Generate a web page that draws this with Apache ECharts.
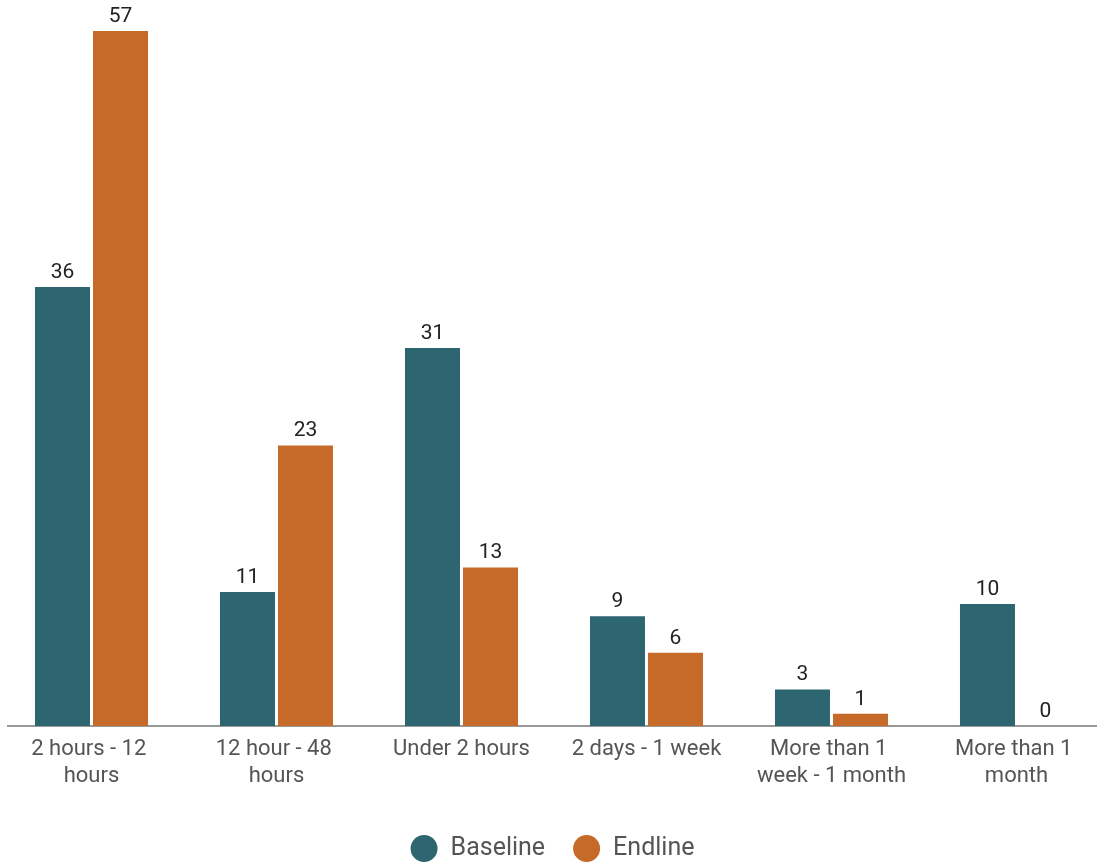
<!DOCTYPE html>
<html><head><meta charset="utf-8">
<script src="https://cdn.jsdelivr.net/npm/echarts@6/dist/echarts.min.js"></script>
<style>html,body{margin:0;padding:0;background:#fff}#c{width:1105px;height:865px}</style>
</head><body><div id="c"></div>
<script>
const categories = ["2 hours - 12 hours","12 hour - 48 hours","Under 2 hours","2 days - 1 week","More than 1 week - 1 month","More than 1 month"];
const baseline = [36, 11, 31, 9, 3, 10];
const endline = [57, 23, 13, 6, 1, 0];
const chart = echarts.init(document.getElementById('c'));
const font = 'Roboto, sans-serif';
chart.setOption({
  animation: false,
  textStyle: {fontFamily: font},
  grid: {left: -1, right: -4, top: 31, bottom: 139, containLabel: false, outerBoundsMode: 'none'},
  legend: {
    top: 830, left: 'center', icon: 'circle', itemWidth: 27, itemHeight: 27, itemGap: 28,
    textStyle: {fontSize: 25, color: '#555', fontFamily: font, padding: [0, 0, 0, 8]}
  },
  xAxis: {
    type: 'category', data: categories,
    axisLine: {show: false}, axisTick: {show: false},
    axisLabel: {fontSize: 22, color: '#555', lineHeight: 27, margin: 10, width: 160, overflow: 'break', interval: 0, fontFamily: font}
  },
  yAxis: {type: 'value', min: 0, max: 57, show: false, splitLine: {show: false}},
  graphic: [{type: 'line', shape: {x1: 7, y1: 726, x2: 1097, y2: 726}, style: {stroke: '#999', lineWidth: 2}}],
  series: [
    {name: 'Baseline', type: 'bar', data: baseline, barWidth: 55, barGap: '5.5%',
     itemStyle: {color: '#2d6670'},
     label: {show: true, position: 'top', distance: 4, fontSize: 21, color: '#222', fontFamily: font}},
    {name: 'Endline', type: 'bar', data: endline, barWidth: 55,
     itemStyle: {color: '#c66a29'},
     label: {show: true, position: 'top', distance: 4, fontSize: 21, color: '#222', fontFamily: font}}
  ]
});
</script></body></html>
